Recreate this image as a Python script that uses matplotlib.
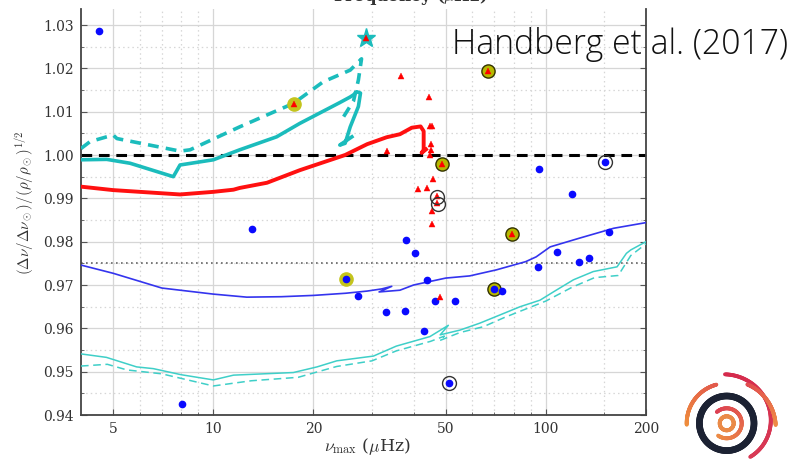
import numpy as np
import matplotlib
matplotlib.use("Agg")
import matplotlib.pyplot as plt
from matplotlib.collections import LineCollection
from matplotlib.ticker import FixedLocator, NullFormatter, FuncFormatter
from matplotlib.colors import to_rgb

plt.rcParams['font.family'] = ['DejaVu Serif']
plt.rcParams['mathtext.fontset'] = 'cm'

# ---------------- data ----------------
# model tracks
red_x = [4.0, 5.0, 7.94, 10.0, 11.5, 12.0, 14.5, 18.2, 21.0, 24.9, 29.0, 33.2, 36.4, 39.5, 42.0, 42.9, 42.9, 42.3, 43.6]
red_y = [0.9927, 0.9919, 0.9909, 0.9915, 0.9920, 0.9924, 0.9936, 0.9965, 0.9981, 1.0000, 1.0025, 1.0041, 1.0048, 1.0063, 1.0066, 1.0055, 1.0012, 1.0005, 1.0013]

cyan_top_x = [4.0, 4.78, 5.62, 7.58, 7.94, 10.0, 12.0, 15.5, 18.2, 24.0, 25.8, 26.4, 27.0, 27.7, 27.3, 25.8, 24.9, 24.0, 26.1]
cyan_top_y = [0.9989, 0.9990, 0.9981, 0.9950, 0.9977, 0.9989, 1.0012, 1.0042, 1.0073, 1.0121, 1.0134, 1.0139, 1.0146, 1.0143, 1.0112, 1.0065, 1.0027, 1.0023, 1.0042]

cyan_top_dash_x = [4.0, 4.26, 4.78, 5.0, 5.13, 7.94, 8.51, 12.0, 17.4, 21.4, 25.8, 27.9, 27.3, 26.4, 24.3]
cyan_top_dash_y = [1.0015, 1.0031, 1.0042, 1.0046, 1.0038, 1.0009, 1.0012, 1.0065, 1.0119, 1.0169, 1.0196, 1.0222, 1.0173, 1.0125, 1.0081]

blue_x = [4.0, 5.0, 7.0, 10.0, 12.6, 16.0, 20.0, 25.0, 29.0, 32.1, 34.4, 31.5, 36.4, 40.0, 50.0, 59.0, 71.0, 87.0, 93.5, 103.0, 126.0, 160.0, 200.0]
blue_y = [0.9746, 0.9727, 0.9693, 0.9679, 0.9672, 0.9673, 0.9676, 0.9681, 0.9686, 0.9691, 0.9697, 0.9684, 0.9688, 0.9700, 0.9716, 0.9721, 0.9735, 0.9754, 0.9765, 0.9788, 0.9808, 0.9831, 0.9844]

cyan_low_x = [4.0, 4.77, 5.88, 6.6, 8.0, 10.0, 11.5, 17.4, 20.5, 23.5, 30.3, 35.5, 44.8, 50.9, 48.1, 55.2, 63.3, 72.8, 83.7, 96.0, 105.8, 121.0, 138.8, 163.7, 174.6, 180.0, 200.0]
cyan_low_y = [0.9541, 0.9533, 0.9511, 0.9507, 0.9493, 0.9481, 0.9492, 0.9498, 0.9511, 0.9525, 0.9536, 0.9559, 0.9581, 0.9607, 0.9585, 0.9596, 0.9612, 0.9631, 0.9650, 0.9665, 0.9685, 0.9712, 0.9731, 0.9742, 0.9773, 0.9781, 0.9800]

cyan_low_dash_x = [4.0, 4.8, 5.5, 7.0, 10.0, 13.0, 18.0, 20.0, 23.5, 30.0, 35.5, 45.0, 49.5, 48.0, 55.0, 65.0, 75.0, 100.0, 120.0, 140.0, 165.0, 180.0, 200.0]
cyan_low_dash_y = [0.9513, 0.9517, 0.9504, 0.9495, 0.9467, 0.9479, 0.9487, 0.9497, 0.9512, 0.9525, 0.9548, 0.9570, 0.9582, 0.9572, 0.9590, 0.9604, 0.9625, 0.9663, 0.9695, 0.9717, 0.9722, 0.9768, 0.9795]

# reference levels
ref_level = 1.0
dotted_level = 0.975

# stars
blue_pts_x = [4.54, 13.1, 8.04, 25.0, 27.3, 33.1, 37.9, 40.5, 37.7, 44.0, 43.1, 46.3, 53.2, 69.6, 74.0, 51.2, 155.0, 108.3, 94.9, 126.0, 134.8, 95.3, 120.1, 150.6]
blue_pts_y = [1.0287, 0.9829, 0.9426, 0.9714, 0.9675, 0.9638, 0.9805, 0.9775, 0.9641, 0.9712, 0.9595, 0.9662, 0.9662, 0.9691, 0.9687, 0.9475, 0.9822, 0.9776, 0.9741, 0.9753, 0.9762, 0.9968, 0.9910, 0.9985]

red_pts_x = [36.6, 44.6, 44.8, 45.3, 45.0, 45.0, 44.8, 33.2, 48.6, 45.9, 41.3, 44.0, 46.9, 47.2, 45.6, 45.6, 48.0, 66.8, 78.9, 17.5, 28.7]
red_pts_y = [1.0182, 1.0133, 1.0067, 1.0067, 1.0025, 1.0012, 1.0000, 1.0009, 0.9979, 0.9945, 0.9921, 0.9925, 0.9905, 0.9889, 0.9871, 0.9841, 0.9673, 1.0195, 0.9818, 1.0118, 1.0269]

yellow_edge_x = [66.8, 48.6, 78.9, 69.6]
yellow_edge_y = [1.0195, 0.9979, 0.9818, 0.9691]
yellow_plain_x = [17.5, 25.0]
yellow_plain_y = [1.0118, 0.9714]

open_circ_x = [150.6, 51.2, 46.9, 47.3]
open_circ_y = [0.9985, 0.9475, 0.9903, 0.9887]

star_x = [28.7]
star_y = [1.0269]

x_major = [5, 10, 20, 50, 100, 200]
x_minor = [6, 7, 8, 9, 30, 40, 60, 70, 80, 90, 150]
y_major = [0.94, 0.95, 0.96, 0.97, 0.98, 0.99, 1.00, 1.01, 1.02, 1.03]
y_minor = [0.945, 0.955, 0.965, 0.975, 0.985, 0.995, 1.005, 1.015, 1.025]

# ---------------- figure ----------------
W, H = 796, 461
fig = plt.figure(figsize=(W / 100, H / 100), dpi=100)
ax = fig.add_axes([81 / W, 1 - 415 / H, (646 - 81) / W, (415 - 9) / H])
ax.set_xscale('log')
ax.set_xlim(4.0, 200)
ax.set_ylim(0.94, 1.0337)

ax.xaxis.set_major_locator(FixedLocator(x_major))
ax.xaxis.set_minor_locator(FixedLocator(x_minor))
ax.xaxis.set_major_formatter(FuncFormatter(lambda v, p: f"{v:g}"))
ax.xaxis.set_minor_formatter(NullFormatter())
ax.yaxis.set_major_locator(FixedLocator(y_major))
ax.yaxis.set_minor_locator(FixedLocator(y_minor))
ax.yaxis.set_major_formatter(FuncFormatter(lambda v, p: f"{v:.2f}"))

ax.grid(which='major', color='#d6d6d6', lw=0.9, ls='-', zorder=0)
ax.grid(which='minor', color='#d6d6d6', lw=0.9, ls=(0, (1.2, 2.5)), zorder=0)
ax.set_axisbelow(True)

for s in ['left', 'right', 'bottom']:
    ax.spines[s].set_color('#444444')
    ax.spines[s].set_linewidth(1.3)
ax.spines['top'].set_visible(False)
ax.tick_params(which='both', direction='in', right=True, top=False, colors='#555555',
               labelcolor='#333333', labelsize=10)
ax.tick_params(which='major', length=4, pad=5)
ax.tick_params(which='minor', length=2.5)

# reference lines
ax.axhline(dotted_level, color='#666666', lw=1.2, ls=(0, (1, 2)), zorder=1)
ax.axhline(ref_level, color='black', lw=2.2, ls=(0, (3.5, 2.2)), zorder=2)

# tracks
cyan = '#1bbcbc'
cyan_light = '#3fcfc8'
ax.plot(cyan_low_x, cyan_low_y, color=cyan_light, lw=1.1, zorder=3)
ax.plot(cyan_low_dash_x, cyan_low_dash_y, color=cyan_light, lw=1.1, ls=(0, (5, 3)), zorder=3)
ax.plot(blue_x, blue_y, color='#3434ee', lw=1.2, zorder=3)
ax.plot(red_x, red_y, color='#ff1010', lw=2.8, zorder=3, solid_joinstyle='round')
ax.plot(cyan_top_x, cyan_top_y, color=cyan, lw=2.6, zorder=3, solid_joinstyle='round')
ax.plot(cyan_top_dash_x, cyan_top_dash_y, color=cyan, lw=2.6, ls=(0, (3, 2)), zorder=3)

# stars
ax.plot(yellow_plain_x, yellow_plain_y, 'o', ms=9.5, color='#c4c41c', mec='#c4c41c', zorder=4)
ax.plot(yellow_edge_x, yellow_edge_y, 'o', ms=9.5, color='#b8b800', mec='#333300', mew=1.0, zorder=4)
ax.plot(star_x, star_y, '*', ms=14, color=cyan, mec=cyan, zorder=4)
ax.plot(blue_pts_x, blue_pts_y, 'o', ms=4.5, color='#0a0aff', mec='#0a0aff', zorder=5)
ax.plot(red_pts_x, red_pts_y, '^', ms=4.8, color='#ff0000', mec='#ff0000', mew=0.3, zorder=5)
ax.plot(open_circ_x, open_circ_y, 'o', ms=10, mfc='none', mec='#333333', mew=1.0, zorder=6)

# labels
fig.text(25 / W, 1 - 203 / H, r'$(\Delta\nu/\Delta\nu_\odot)/(\rho/\rho_\odot)^{1/2}$',
         rotation=90, ha='center', va='center', fontsize=10.8, color='#333333')
fig.text(367 / W, 1 - 446 / H, r'$\nu_{\rm max}$ ($\mu$Hz)', ha='center', va='center',
         fontsize=12.5, color='#333333')
fig.text(410 / W, 1 - 1 / H, r'Frequency ($\mu$Hz)', ha='center', va='baseline',
         fontsize=12, fontweight='bold', color='#333333')

# citation
fig.text(452 / W, 1 - 54.5 / H, 'Handberg et al. (2017)', ha='left', va='baseline',
         family=['Open Sans', 'DejaVu Sans'], fontweight='light', fontsize=24.3,
         color='#111111', zorder=10)

# ---------------- logo ----------------
lax = fig.add_axes([660 / W, 0, 133 / W, 96 / H])
lax.set_xlim(660, 793)
lax.set_ylim(0, 96)
lax.axis('off')
cx, cy = 726.7, 461 - 423.3


def arc(r0, r1, a0, a1, c0, c1, lw, n=120):
    t = np.linspace(np.radians(a0), np.radians(a1), n)
    r = np.linspace(r0, r1, n)
    px = cx + r * np.cos(t)
    py = cy + r * np.sin(t)
    pts = np.column_stack([px, py]).reshape(-1, 1, 2)
    segs = np.concatenate([pts[:-1], pts[1:]], axis=1)
    c0, c1 = np.array(to_rgb(c0)), np.array(to_rgb(c1))
    f = np.linspace(0, 1, n - 1)[:, None]
    cols = c0 * (1 - f) + c1 * f
    lc = LineCollection(segs, colors=cols, linewidths=lw, capstyle='round')
    lax.add_collection(lc)


arc(27.3, 27.3, 0, 360, '#1c2233', '#1c2233', 4.8)
arc(7.0, 7.0, 0, 360, '#ea8a48', '#ea8a48', 2.8)
arc(15.0, 15.0, 131, -125, '#dc3e52', '#ec8a45', 2.8)
arc(40.0, 40.0, 182, 105, '#ef8f3c', '#e25a4c', 2.8)
arc(49.0, 41.0, 92, -55, '#d52a4c', '#d83a55', 2.8)
arc(44.0, 49.0, 62, -2, '#e04a50', '#ee8a45', 2.8)

fig.savefig('out.png', dpi=100)
